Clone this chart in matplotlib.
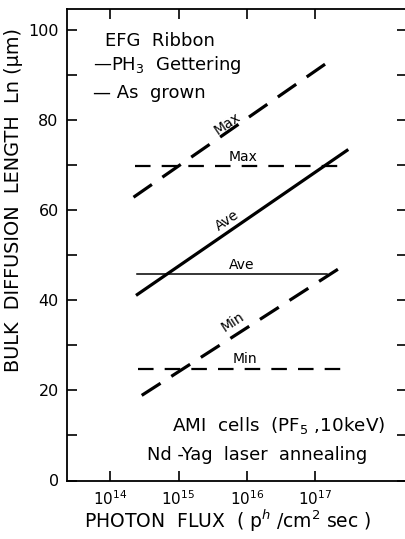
import numpy as np
import matplotlib
matplotlib.use('Agg')
from matplotlib import pyplot as plt
from matplotlib.ticker import FixedLocator, NullFormatter

# photon flux end points (ph/cm2 sec) and diffusion lengths (um)
max_rise_x = [2.2e14, 1.6e17]
max_rise_y = [62.9, 93.1]
max_flat_x = [2.3e14, 2.5e17]
max_flat_y = [69.8, 69.8]
ave_rise_x = [2.5e14, 2.9e17]
ave_rise_y = [41.3, 73.3]
ave_flat_x = [2.5e14, 1.5e17]
ave_flat_y = [45.8, 45.8]
min_rise_x = [2.9e14, 2.9e17]
min_rise_y = [18.9, 48.2]
min_flat_x = [2.6e14, 2.9e17]
min_flat_y = [24.8, 24.8]

x_ticks = [1e14, 1e15, 1e16, 1e17]
x_tick_labels = ['$10^{14}$', '$10^{15}$', '$10^{16}$', '$10^{17}$']
y_ticks = [0, 20, 40, 60, 80, 100]
y_minor = [10, 30, 50, 70, 90]

plt.rcParams['font.family'] = ['DejaVu Sans']
plt.rcParams['mathtext.fontset'] = 'dejavusans'

fig = plt.figure(figsize=(4.05, 5.39), dpi=100)
ax = fig.add_axes([67 / 405, 1 - 480.5 / 539, 340 / 405, 471.5 / 539])
ax.set_xscale('log')
ax.set_xlim(10 ** 13.37, 10 ** 18.34)
ax.set_ylim(0, 104.7)

k = 'black'
ax.plot(max_rise_x, max_rise_y, color=k, lw=2.3, dashes=(7, 4))
ax.plot(max_flat_x, max_flat_y, color=k, lw=1.6, dashes=(7, 5))
ax.plot(ave_rise_x, ave_rise_y, color=k, lw=2.3)
ax.plot(ave_flat_x, ave_flat_y, color=k, lw=1.1)
ax.plot(min_rise_x, min_rise_y, color=k, lw=2.3, dashes=(7, 4))
ax.plot(min_flat_x, min_flat_y, color=k, lw=1.6, dashes=(7, 5))

fs = 10
ax.text(10 ** 15.71, 79.3, 'Max', rotation=34, ha='center', va='center', fontsize=fs)
ax.text(10 ** 15.94, 71.8, 'Max', ha='center', va='center', fontsize=fs)
ax.text(10 ** 15.71, 57.8, 'Ave', rotation=34, ha='center', va='center', fontsize=fs)
ax.text(10 ** 15.93, 47.8, 'Ave', ha='center', va='center', fontsize=fs)
ax.text(10 ** 15.80, 35.1, 'Min', rotation=33, ha='center', va='center', fontsize=fs)
ax.text(10 ** 15.97, 26.9, 'Min', ha='center', va='center', fontsize=fs)

# legend, written as plain text like the original
ax.text((105 - 67) / 340, (480 - 40) / 471.5, 'EFG  Ribbon', transform=ax.transAxes,
        va='center', fontsize=13)
ax.text((93 - 67) / 340, (480 - 65) / 471.5, '\u2014PH$_3$  Gettering', transform=ax.transAxes,
        va='center', fontsize=13)
ax.text((93 - 67) / 340, (480 - 93) / 471.5, '\u2014 As  grown', transform=ax.transAxes,
        va='center', fontsize=13)

ax.text((172 - 67) / 340, (480 - 425) / 471.5, 'AMI  cells  (PF$_5$ ,10keV)',
        transform=ax.transAxes, va='center', fontsize=13.2)
ax.text((147 - 67) / 340, (480 - 454) / 471.5, 'Nd -Yag  laser  annealing',
        transform=ax.transAxes, va='center', fontsize=12.9)

ax.xaxis.set_major_locator(FixedLocator(x_ticks))
ax.xaxis.set_minor_locator(FixedLocator([]))
ax.set_xticklabels(x_tick_labels, fontsize=11)
ax.yaxis.set_major_locator(FixedLocator(y_ticks))
ax.yaxis.set_minor_locator(FixedLocator(y_minor))
ax.yaxis.set_minor_formatter(NullFormatter())
ax.set_yticklabels([str(v) for v in y_ticks], fontsize=11.5)
ax.tick_params(which='both', direction='in', length=7.5, width=1.2,
               top=True, right=True, pad=6)

for s in ax.spines.values():
    s.set_linewidth(1.3)

ax.set_ylabel('BULK  DIFFUSION  LENGTH  Ln (\u03bcm)', fontsize=13.9)
ax.yaxis.set_label_coords(-0.128, 0.594)
ax.set_xlabel('PHOTON  FLUX  ( p$^{h}$ /cm$^{2}$ sec )', fontsize=13.5)
ax.xaxis.set_label_coords(0.474, -0.058)

fig.savefig('out.png', dpi=100)
